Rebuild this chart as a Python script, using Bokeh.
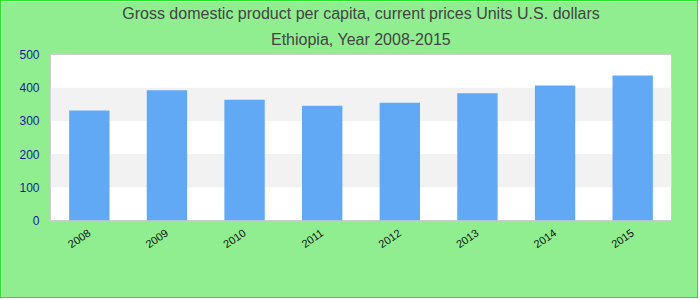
from bokeh.plotting import figure
from bokeh.models import FactorRange, Range1d, FixedTicker, Title, ColumnDataSource
from bokeh.embed import file_html
from bokeh.resources import INLINE

years = ["2008", "2009", "2010", "2011", "2012", "2013", "2014", "2015"]
gdp = [331, 392, 364, 346, 355, 383, 407, 437]
y_ticks = [0, 100, 200, 300, 400, 500]
title_1 = "Gross domestic product per capita, current prices Units U.S. dollars"
title_2 = "Ethiopia, Year 2008-2015"

source = ColumnDataSource(data=dict(year=years, gdp=gdp))

p = figure(
    width=698, height=298,
    x_range=FactorRange(factors=years, range_padding=0),
    y_range=Range1d(0, 500),
    output_backend="svg", toolbar_location=None,
)
p.styles = {"border": "1px solid #22e622"}
p.min_border_left = 49
p.min_border_right = 28
p.min_border_top = 53
p.min_border_bottom = 79

p.vbar(x="year", top="gdp", width=0.52, source=source, fill_color="#61a9f4", line_color=None)

p.add_layout(Title(text=title_2, align="center", text_font="Liberation Sans", text_font_size="16px",
                   text_font_style="normal", text_color="#444444", standoff=14), "above")
p.add_layout(Title(text=title_1, align="center", text_font="Liberation Sans", text_font_size="16px",
                   text_font_style="normal", text_color="#444444", standoff=0), "above")

p.border_fill_color = "#90ee90"
p.background_fill_color = "white"
p.outline_line_color = "#cccccc"
p.outline_line_width = 1

p.xgrid.grid_line_color = None
p.ygrid.grid_line_color = None
p.ygrid.band_fill_color = "#f2f2f2"
p.ygrid.band_fill_alpha = 1.0

p.yaxis.ticker = FixedTicker(ticks=y_ticks)
for ax in (p.xaxis, p.yaxis):
    ax.axis_line_color = None
    ax.major_tick_line_color = None
    ax.minor_tick_line_color = None
    ax.major_label_text_font = "Liberation Sans"
p.yaxis.major_label_text_color = "#1a1a99"
p.yaxis.major_label_text_font_size = "12px"
p.xaxis.major_label_text_color = "#111111"
p.xaxis.major_label_text_font_size = "11px"
p.xaxis.major_label_orientation = 0.6
p.xaxis.group_text_font_size = "0px"

open("out.html", "w").write(file_html(p, INLINE))
